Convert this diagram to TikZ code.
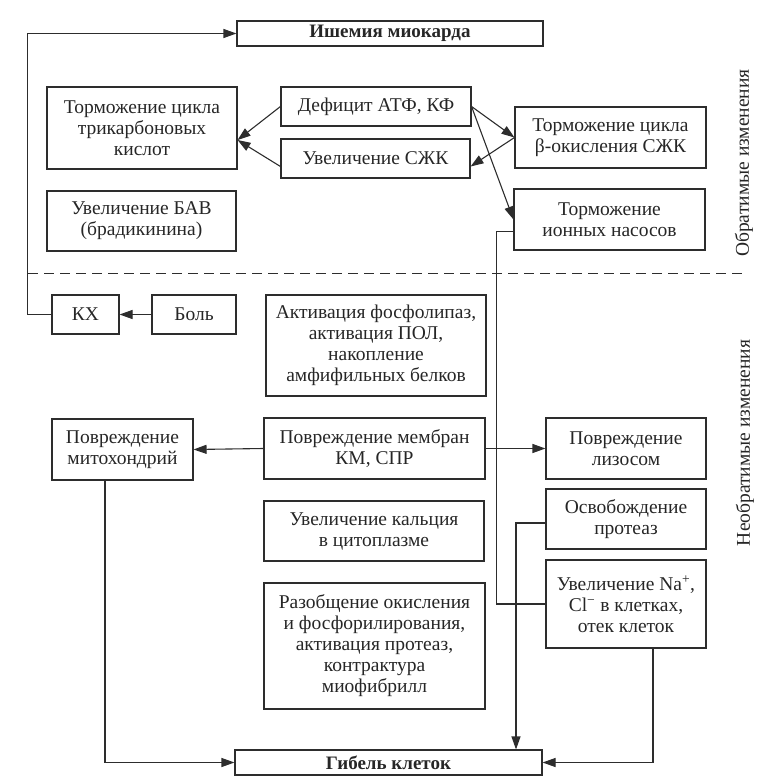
\documentclass[tikz,border=0pt]{standalone}
\usepackage{fontspec}
\setmainfont{Liberation Serif}
\usetikzlibrary{arrows.meta,positioning}
\definecolor{linecolor}{RGB}{45,45,45}

\begin{document}
\begin{tikzpicture}[x=1pt,y=-1pt,
    font=\fontsize{19.5}{21}\selectfont,
    box/.style={draw=linecolor,line width=1.1pt,align=center,inner sep=0pt,text=black!85},
    arr/.style={draw=linecolor,line width=1.1pt,-{Triangle[length=13pt,width=9pt]}},
    link/.style={draw=linecolor,line width=1.1pt}]
    % Frame
    \useasboundingbox (0,0) rectangle (766,776);

    % Reversible part
    \node[box,minimum width=306pt,minimum height=25pt,font=\fontsize{19}{21}\selectfont\bfseries] (ischemia) at (390,33.5) {Ишемия миокарда};
    \node[box,minimum width=190pt,minimum height=82pt] (krebs) at (142,128) {Торможение цикла\\трикарбоновых\\кислот};
    \node[box,minimum width=189pt,minimum height=60pt] (bav) at (141.5,221) {Увеличение БАВ\\(брадикинина)};
    \node[box,minimum width=190pt,minimum height=39pt] (atp) at (376,106.5) {Дефицит АТФ, КФ};
    \node[box,minimum width=189pt,minimum height=39pt] (ffa) at (375.5,158.5) {Увеличение СЖК};
    \node[box,minimum width=191pt,minimum height=61pt] (betaox) at (610.5,137.5) {Торможение цикла\\β-окисления СЖК};
    \node[box,minimum width=191pt,minimum height=61pt] (pumps) at (609.5,219.5) {Торможение\\ионных насосов};
    \node[rotate=90,text=black!85] (reversible) at (744,163) {Обратимые изменения};

    % Border between the two stages
    \draw[linecolor,line width=1pt,dash pattern=on 10pt off 6pt] (28,273) -- (747,273);

    % Irreversible part
    \node[box,minimum width=67pt,minimum height=39pt] (kx) at (85.5,314.5) {КХ};
    \node[box,minimum width=84pt,minimum height=39pt] (pain) at (194,314.5) {Боль};
    \node[box,minimum width=220pt,minimum height=101pt] (lipase) at (376,345.5) {Активация фосфолипаз,\\активация ПОЛ,\\накопление\\амфифильных белков};
    \node[box,minimum width=141pt,minimum height=61pt] (mito) at (122.5,449.5) {Повреждение\\митохондрий};
    \node[box,minimum width=221pt,minimum height=61pt] (membr) at (374.5,448.5) {Повреждение мембран\\КМ, СПР};
    \node[box,minimum width=160pt,minimum height=61pt] (lyso) at (626,448.5) {Повреждение\\лизосом};
    \node[box,minimum width=160pt,minimum height=60pt] (protease) at (626,519) {Освобождение\\протеаз};
    \node[box,minimum width=220pt,minimum height=60pt] (calcium) at (374,531) {Увеличение кальция\\в цитоплазме};
    \node[box,minimum width=160pt,minimum height=88pt] (sodium) at (626,604) {Увеличение Na\textsuperscript{+},\\Cl\textsuperscript{−} в клетках,\\отек клеток};
    \node[box,minimum width=221pt,minimum height=126pt] (uncoupl) at (374.5,646) {Разобщение окисления\\и фосфорилирования,\\активация протеаз,\\контрактура\\миофибрилл};
    \node[box,minimum width=307pt,minimum height=25pt,font=\fontsize{19}{21}\selectfont\bfseries] (death) at (388.5,762.5) {Гибель клеток};
    \node[rotate=90,text=black!85] (irreversible) at (745,443) {Необратимые изменения};

    % Arrows
    \draw[arr] (atp.west) -- ([yshift=-12pt]krebs.east);
    \draw[arr] ([yshift=-8pt]ffa.west) -- ([yshift=-12pt]krebs.east);
    \draw[arr] (atp.east) -- (betaox.west);
    \draw[arr] (betaox.west) -- ([yshift=-8pt]ffa.east);
    \draw[arr] (atp.east) -- (pumps.west);
    \draw[arr] (pain.west) -- (kx.east);
    \draw[arr] (kx.west) -- ++(-24,0) |- (ischemia.west);
    \draw[arr] (membr.west) -- (mito.east);
    \draw[arr] (membr.east) -- (lyso.west);
    \draw[link] ([yshift=-12pt]pumps.west) -- ++(-17,0) |- (sodium.west);
    \draw[arr] ([yshift=-4pt]protease.west) -| ([xshift=127.5pt]death.north);
    \draw[arr] ([xshift=27pt]sodium.south) |- (death.east);
    \draw[arr] ([xshift=-17.5pt]mito.south) |- (death.west);
\end{tikzpicture}
\end{document}
